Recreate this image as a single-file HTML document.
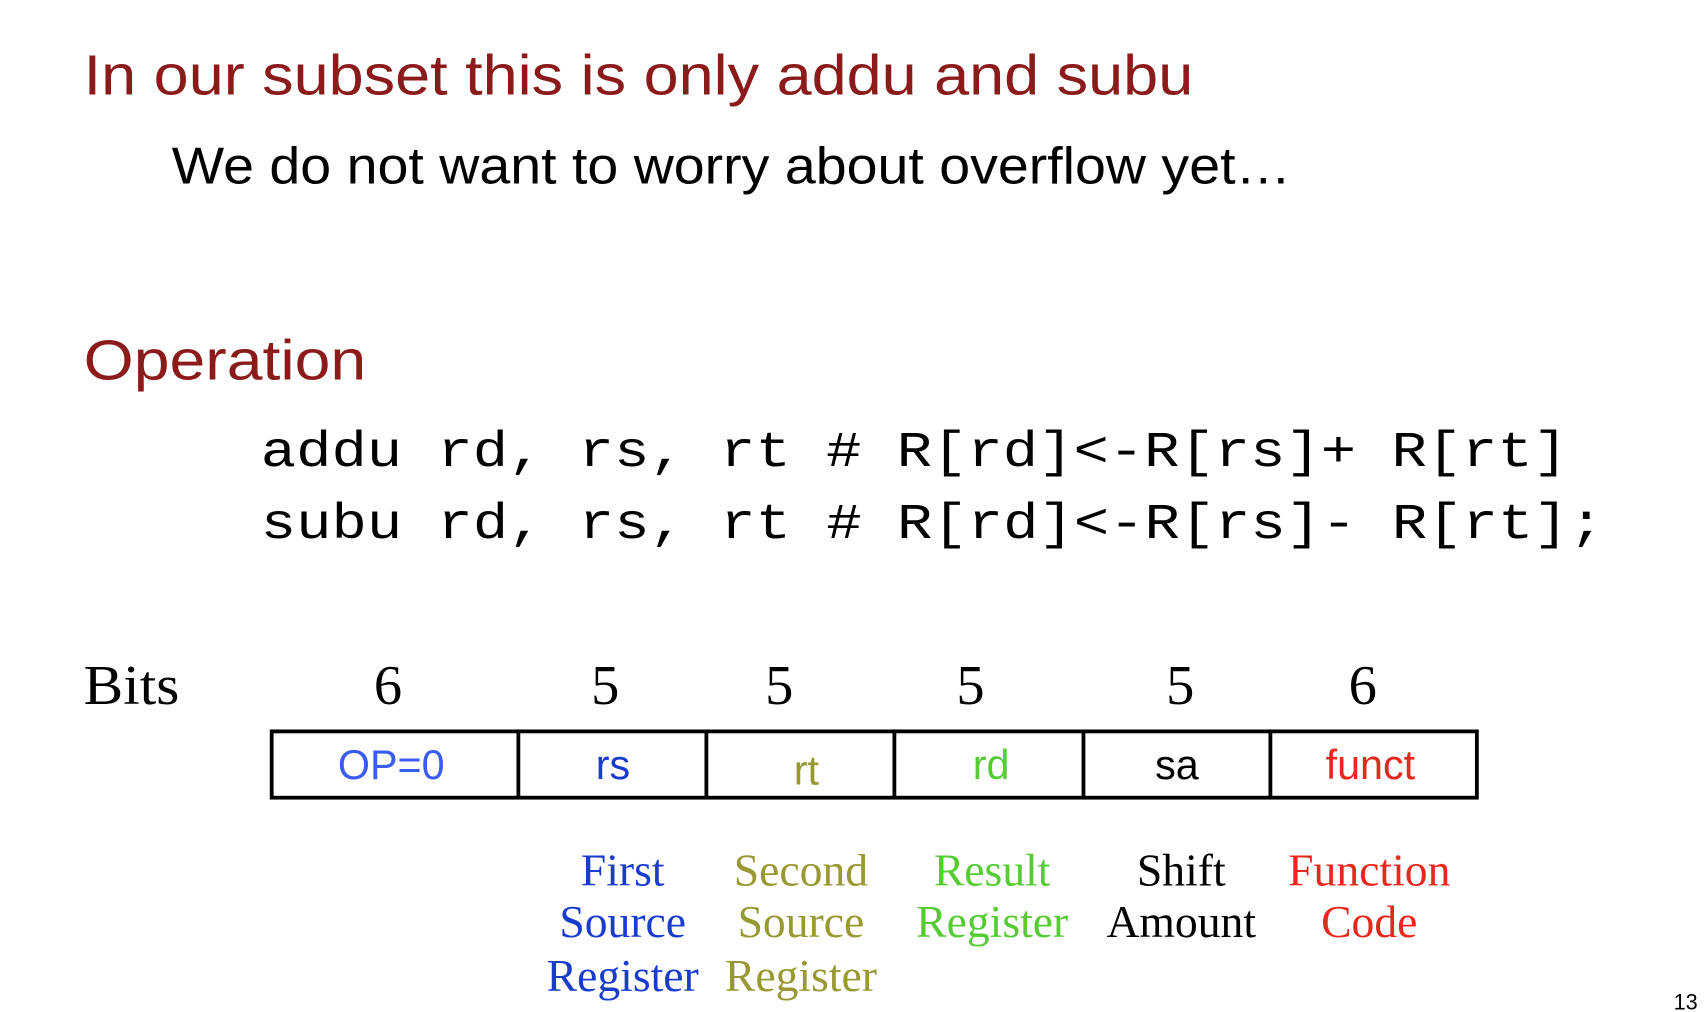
<!DOCTYPE html>
<html><head><meta charset="utf-8"><style>
html,body{margin:0;padding:0;background:#fff;}
svg{display:block;}
</style></head><body>
<svg width="1704" height="1012" viewBox="0 0 1568 931.2" xmlns="http://www.w3.org/2000/svg">
<rect width="1568" height="931.2" fill="#fff"/>
<g font-family="Liberation Sans, sans-serif">
<text x="77" y="87" font-size="52" fill="#8b1a1a" textLength="1021" lengthAdjust="spacingAndGlyphs">In our subset this is only addu and subu</text>
<text x="158" y="169" font-size="48" fill="#000" textLength="1030" lengthAdjust="spacingAndGlyphs">We do not want to worry about overflow yet…</text>
<text x="77" y="349" font-size="52" fill="#8b1a1a" textLength="260" lengthAdjust="spacingAndGlyphs">Operation</text>
</g>
<g font-family="Liberation Mono, monospace" font-size="46" fill="#000">
<text x="240" y="429" textLength="1203" lengthAdjust="spacingAndGlyphs">addu rd, rs, rt # R[rd]&lt;-R[rs]+ R[rt]</text>
<text x="240" y="495" textLength="1236" lengthAdjust="spacingAndGlyphs">subu rd, rs, rt # R[rd]&lt;-R[rs]- R[rt];</text>
</g>
<g font-family="Liberation Serif, serif" font-size="52" fill="#000" text-anchor="middle">
<text x="77" y="648" text-anchor="start" textLength="88" lengthAdjust="spacingAndGlyphs">Bits</text>
<text x="357" y="648">6</text>
<text x="557" y="648">5</text>
<text x="717" y="648">5</text>
<text x="893" y="648">5</text>
<text x="1086" y="648">5</text>
<text x="1254" y="648">6</text>
</g>
<g stroke="#000" stroke-width="3.5" fill="none">
<rect x="250" y="673" width="1109" height="61"/>
<line x1="477" y1="673" x2="477" y2="734"/>
<line x1="650" y1="673" x2="650" y2="734"/>
<line x1="823" y1="673" x2="823" y2="734"/>
<line x1="997" y1="673" x2="997" y2="734"/>
<line x1="1169" y1="673" x2="1169" y2="734"/>
</g>
<g font-family="Liberation Sans, sans-serif" font-size="38" text-anchor="middle">
<text x="360" y="717" fill="#3a5cf0">OP=0</text>
<text x="564" y="717" fill="#1a3ccc">rs</text>
<text x="742" y="722" fill="#999933">rt</text>
<text x="912" y="717" fill="#55cc33">rd</text>
<text x="1083" y="717" fill="#000">sa</text>
<text x="1261" y="717" fill="#e8281e">funct</text>
</g>
<g font-family="Liberation Serif, serif" font-size="42" text-anchor="middle">
<g fill="#1a3ccc"><text x="573" y="815">First</text><text x="573" y="862">Source</text><text x="573" y="912">Register</text></g>
<g fill="#999933"><text x="737" y="815">Second</text><text x="737" y="862">Source</text><text x="737" y="912">Register</text></g>
<g fill="#55cc33"><text x="913" y="815">Result</text><text x="913" y="862">Register</text></g>
<g fill="#000"><text x="1087" y="815">Shift</text><text x="1087" y="862">Amount</text></g>
<g fill="#e8281e"><text x="1260" y="815">Function</text><text x="1260" y="862">Code</text></g>
</g>
<text x="1540" y="929" font-family="Liberation Sans, sans-serif" font-size="20" fill="#000">13</text>
</svg>
</body></html>
